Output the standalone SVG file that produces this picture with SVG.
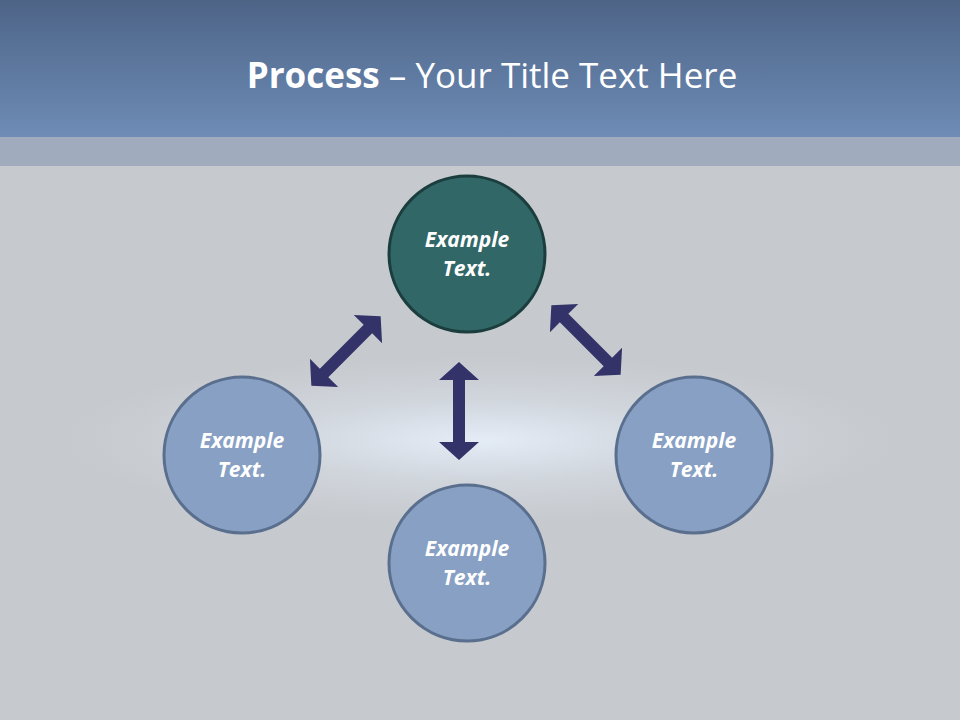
<svg xmlns="http://www.w3.org/2000/svg" width="960" height="720" viewBox="0 0 960 720">
<defs>
<linearGradient id="hdr" x1="0" y1="0" x2="0" y2="1"><stop offset="0" stop-color="#4d6487"/><stop offset="1" stop-color="#6e8cb6"/></linearGradient>
<radialGradient id="glow" cx="480" cy="440" r="420" gradientUnits="userSpaceOnUse" gradientTransform="translate(0 440) scale(1 0.2) translate(0 -440)"><stop offset="0" stop-color="#e4ecf6"/><stop offset="0.5" stop-color="#d0d5dc"/><stop offset="1" stop-color="#c6c9cd"/></radialGradient>
<polygon id="arr" points="-49,0 -31,-20 -31,-6 31,-6 31,-20 49,0 31,20 31,6 -31,6 -31,20"/>
</defs>
<style>
.c{fill:#87a0c4;stroke:#5a6f8e;stroke-width:3}
.t{font-family:"Open Sans","Liberation Sans",sans-serif;font-style:italic;font-weight:bold;font-size:21px;fill:#fff;text-anchor:middle}
.a{fill:#33336a}
</style>
<rect width="960" height="720" fill="#c6c9cd"/>
<rect y="166" width="960" height="554" fill="url(#glow)"/>
<rect width="960" height="137" fill="url(#hdr)"/>
<rect y="137" width="960" height="29" fill="#a0abbd"/>
<text x="492" y="88" text-anchor="middle" font-family="'Open Sans','Liberation Sans',sans-serif" font-size="35" fill="#fff"><tspan font-weight="bold">Process</tspan> – Your Title Text Here</text>
<g id="connectors" class="a">
<use href="#arr" transform="translate(459,411) rotate(90)"/>
<use href="#arr" transform="translate(346,351) rotate(-45)"/>
<use href="#arr" transform="translate(586,340) rotate(45)"/>
</g>
<g id="top"><circle cx="467" cy="254" r="78" fill="#316767" stroke="#1b3d3d" stroke-width="3"/><text class="t" x="467" y="247">Example</text><text class="t" x="467" y="276">Text.</text></g>
<g id="left"><circle class="c" cx="242" cy="455" r="78"/><text class="t" x="242" y="448">Example</text><text class="t" x="242" y="477">Text.</text></g>
<g id="right"><circle class="c" cx="694" cy="455" r="78"/><text class="t" x="694" y="448">Example</text><text class="t" x="694" y="477">Text.</text></g>
<g id="bottom"><circle class="c" cx="467" cy="563" r="78"/><text class="t" x="467" y="556">Example</text><text class="t" x="467" y="585">Text.</text></g>
</svg>
